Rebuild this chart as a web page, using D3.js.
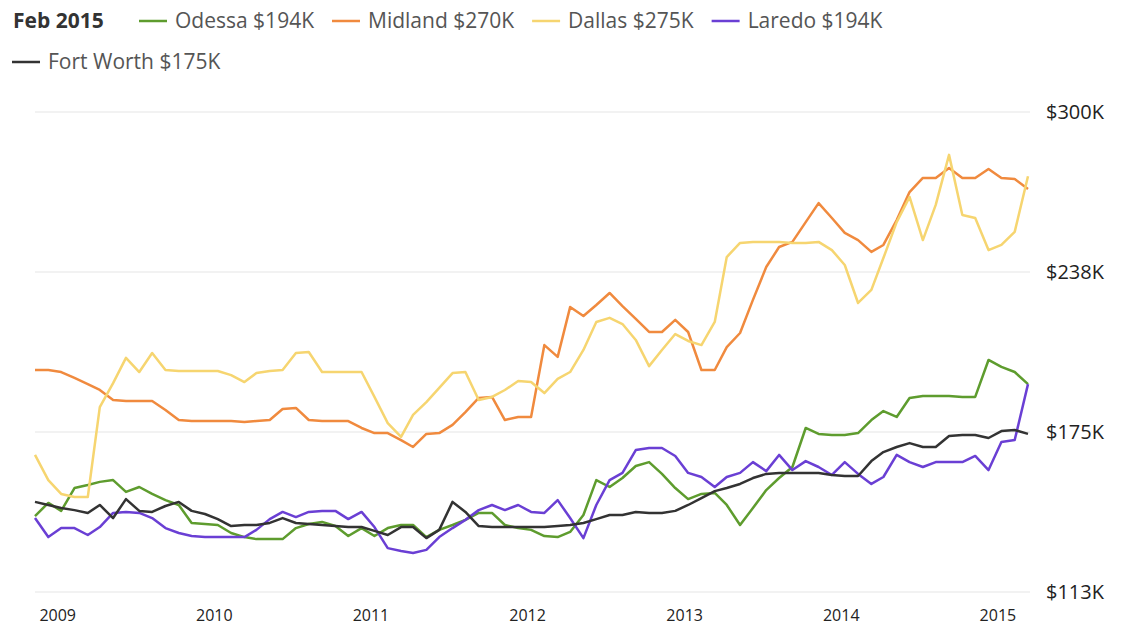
<!DOCTYPE html>
<html>
<head>
<meta charset="utf-8">
<script src="https://cdn.jsdelivr.net/npm/d3@7"></script>
<style>
  body { margin: 0; background: #fff; }
  text { font-family: "Open Sans", sans-serif; }
</style>
</head>
<body>
<div id="container"></div>
<script>
let w = 1127;
let h = 638;

// monthly, Oct 2008 .. Feb 2015
let months = d3.timeMonth.range(new Date(2008, 9, 1), new Date(2015, 2, 1));

let odessa = [142.6,147.7,144.6,153.5,154.7,155.9,156.6,152.0,153.9,151.2,
  148.8,146.9,139.9,139.5,139.1,136.0,134.4,133.6,133.6,133.6,
  137.9,139.5,140.3,138.7,134.8,137.9,134.8,137.9,139.1,139.1,
  134.4,137.2,139.1,141.1,143.8,143.8,139.1,137.9,137.2,134.8,
  134.4,136.4,143.0,156.6,153.9,157.4,162.1,163.6,159.0,153.5,
  149.2,151.2,151.6,146.9,139.1,145.7,152.7,157.4,161.7,176.9,
  174.6,174.2,174.2,174.9,180.0,183.5,181.2,188.6,189.4,189.4,
  189.4,189.0,189.0,203.4,200.7,198.7,194.0];

let midland = [199.5,199.5,198.7,196.4,194.0,191.7,187.8,187.4,187.4,187.4,
  183.9,180.0,179.6,179.6,179.6,179.6,179.2,179.6,180.0,184.3,
  184.7,180.0,179.6,179.6,179.6,176.9,174.9,174.9,172.2,169.5,
  174.6,174.9,178.1,183.1,188.6,189.0,180.0,181.2,181.2,209.2,
  204.6,224.0,220.5,224.8,229.5,224.4,219.4,214.3,214.3,219.0,
  214.3,199.5,199.5,208.4,213.9,226.8,239.6,247.4,249.4,257.1,
  264.5,258.7,252.9,250.1,245.5,248.2,257.9,268.8,274.3,274.3,
  278.2,274.3,274.3,277.8,274.3,273.9,270.0];

let dallas = [166.4,156.6,151.2,150.0,150.0,185.0,194.4,204.2,198.7,206.1,
  199.5,199.1,199.1,199.1,199.1,197.5,194.8,198.3,199.1,199.5,
  206.1,206.5,198.7,198.7,198.7,198.7,189.0,178.8,173.4,182.0,
  187.0,192.5,198.3,198.7,187.8,189.0,191.7,195.2,194.8,190.5,
  196.0,198.7,207.3,218.2,219.8,217.4,211.2,201.0,207.3,213.5,
  210.8,209.2,218.2,243.5,249.0,249.4,249.4,249.4,249.0,249.0,
  249.4,246.2,240.4,225.6,230.7,243.1,257.1,266.9,250.1,263.8,
  283.3,259.9,258.7,246.2,248.2,253.3,275.0];

let laredo = [141.8,134.4,137.9,137.9,135.2,138.3,143.8,144.2,143.8,141.8,
  137.9,136.0,134.8,134.4,134.4,134.4,134.4,137.2,141.4,144.2,
  142.2,144.2,144.6,144.6,141.4,144.2,138.3,130.1,129.0,128.2,
  129.4,134.4,137.9,141.1,144.9,146.9,144.9,146.9,144.2,143.8,
  148.8,141.8,134.0,146.9,156.6,159.4,168.3,169.1,169.1,166.0,
  159.4,157.8,153.9,157.8,159.4,163.6,160.1,166.4,160.5,164.0,
  161.7,158.6,163.6,159.0,155.1,157.8,166.4,163.6,161.7,163.6,
  163.6,163.6,166.0,160.5,171.4,172.2,194.0];

let fortWorth = [148.1,146.9,145.7,144.9,143.8,146.9,141.8,149.2,144.6,144.2,
  146.5,148.1,144.6,143.4,141.4,138.7,139.1,139.1,139.9,141.8,
  139.9,139.5,139.1,138.7,138.3,138.3,136.8,135.2,138.3,138.3,
  134.0,137.2,148.1,144.2,138.7,138.3,138.3,138.3,138.3,138.3,
  138.7,139.1,139.9,141.4,143.0,143.0,144.2,143.8,143.8,144.6,
  146.9,149.6,152.3,153.5,155.1,157.4,159.0,159.4,159.4,159.4,
  159.4,158.6,158.2,158.2,164.0,167.5,169.5,171.0,169.5,169.5,
  173.8,174.2,174.2,173.0,175.7,176.1,174.6];

let seriesNames = ["Odessa", "Midland", "Dallas", "Laredo", "Fort Worth"];
let seriesValues = [odessa, midland, dallas, laredo, fortWorth];
let seriesColors = ["#5e9c2e", "#f08a3e", "#f6d570", "#6a3fd4", "#333333"];
let legendLabels = ["$194K", "$270K", "$275K", "$194K", "$175K"];
let legendTitle = "Feb 2015";

let yTicks = [113, 175.33, 237.67, 300];
let yTickLabels = ["$113K", "$175K", "$238K", "$300K"];

let viz = d3.select("#container")
  .append("svg")
    .attr("width", w)
    .attr("height", h)
;

let xScale = d3.scaleTime()
  .domain([months[0], months[months.length - 1]])
  .range([35, 1028]);
let yScale = d3.scaleLinear().domain([113, 300]).range([592, 112]);

// grid + y labels
let grid = viz.append("g").attr("class", "grid");
grid.selectAll("line").data(yTicks).enter().append("line")
  .attr("x1", 35)
  .attr("x2", 1030)
  .attr("y1", d => yScale(d))
  .attr("y2", d => yScale(d))
  .attr("stroke", "#eeeeee")
  .attr("stroke-width", 1.5);

let yAxis = d3.axisRight(yScale)
  .tickValues(yTicks)
  .tickSize(0)
  .tickPadding(0)
  .tickFormat((d, i) => yTickLabels[i]);
let yAxisGroup = viz.append("g").attr("class", "yaxis")
  .attr("transform", "translate(1046,0)")
  .call(yAxis);
yAxisGroup.select(".domain").remove();
yAxisGroup.selectAll("text")
  .attr("font-family", "Open Sans, sans-serif")
  .attr("font-size", 20)
  .attr("fill", "#222");

// x labels
let xAxis = d3.axisBottom(xScale)
  .ticks(d3.timeYear.every(1))
  .tickSize(0)
  .tickPadding(0)
  .tickFormat(d3.timeFormat("%Y"));
let xAxisGroup = viz.append("g").attr("class", "xaxis")
  .attr("transform", "translate(0,610)")
  .call(xAxis);
xAxisGroup.select(".domain").remove();
xAxisGroup.selectAll("text")
  .attr("font-family", "Open Sans, sans-serif")
  .attr("font-size", 16)
  .attr("fill", "#222")
  .attr("text-anchor", "end")
  .attr("dx", 1);

// lines
let line = d3.line()
  .x((d, i) => xScale(months[i]))
  .y(d => yScale(d));

viz.append("g").attr("class", "lines")
  .selectAll("path").data(seriesValues).enter().append("path")
    .attr("d", line)
    .attr("fill", "none")
    .attr("stroke", (d, i) => seriesColors[i])
    .attr("stroke-width", 2.5)
    .attr("stroke-linejoin", "round");

// legend
let legend = viz.append("g").attr("class", "legend");
legend.append("text")
  .text(legendTitle)
  .attr("x", 13)
  .attr("y", 28)
  .attr("font-size", 21)
  .attr("font-weight", "bold")
  .attr("fill", "#333");

let lx = 139;
let ly = 28;
seriesNames.forEach(function(name, i) {
  let g = legend.append("g");
  let t = g.append("text")
    .text(name + " " + legendLabels[i])
    .attr("font-size", 21)
    .attr("fill", "#555");
  let tw = t.node().getComputedTextLength();
  if (lx + 36 + tw > 1000) {
    lx = 12;
    ly += 41;
  }
  g.append("line")
    .attr("x1", lx).attr("x2", lx + 28)
    .attr("y1", ly - 7).attr("y2", ly - 7)
    .attr("stroke", seriesColors[i])
    .attr("stroke-width", 2.5);
  t.attr("x", lx + 36).attr("y", ly);
  lx += 36 + tw + 18;
});
</script>
</body>
</html>
